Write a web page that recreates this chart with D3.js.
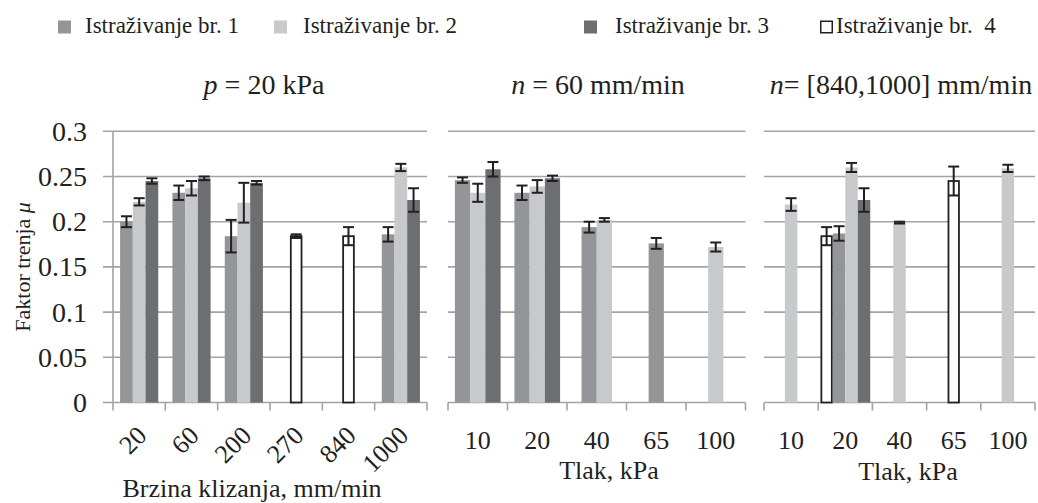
<!DOCTYPE html>
<html><head><meta charset="utf-8">
<script src="https://cdn.jsdelivr.net/npm/d3@7"></script>
<style>
body{margin:0;background:#fff}
svg text{font-family:"Liberation Serif","Tinos","DejaVu Serif",serif;fill:#231f20;white-space:pre}
</style>
</head><body>
<svg id="c" width="1038" height="503" font-family="Liberation Serif"></svg>
<script>
// ---------- DATA ----------
const seriesNames = ["Istraživanje br. 1", "Istraživanje br. 2", "Istraživanje br. 3", "Istraživanje br.  4"];
const yTicks = [0, 0.05, 0.1, 0.15, 0.2, 0.25, 0.3];
const yTickLabels = ["0", "0.05", "0.1", "0.15", "0.2", "0.25", "0.3"];

// Panel 1: p = 20 kPa, sliding speed
const p1Cats = ["20", "60", "200", "270", "840", "1000"];
const p1S1 = [0.200, 0.232, 0.184, null, null, 0.186];
const p1S1Err = [0.006, 0.008, 0.018, null, null, 0.008];
const p1S2 = [0.222, 0.237, 0.221, null, null, 0.260];
const p1S2Err = [0.004, 0.008, 0.022, null, null, 0.004];
const p1S3 = [0.245, 0.248, 0.243, null, null, 0.224];
const p1S3Err = [0.003, 0.002, 0.002, null, null, 0.013];
const p1S4 = [null, null, null, 0.184, 0.184, null];
const p1S4Err = [null, null, null, 0.002, 0.010, null];

// Panel 2: n = 60 mm/min, pressure
const p2Cats = ["10", "20", "40", "65", "100"];
const p2S1 = [0.246, 0.232, 0.194, 0.176, null];
const p2S1Err = [0.003, 0.008, 0.006, 0.006, null];
const p2S2 = [0.232, 0.239, 0.202, null, 0.172];
const p2S2Err = [0.010, 0.007, 0.002, null, 0.005];
const p2S3 = [0.258, 0.248, null, null, null];
const p2S3Err = [0.008, 0.003, null, null, null];
const p2S4 = [null, null, null, null, null];
const p2S4Err = [null, null, null, null, null];

// Panel 3: n = [840,1000] mm/min, pressure
const p3Cats = ["10", "20", "40", "65", "100"];
const p3S1 = [null, 0.187, null, null, null];
const p3S1Err = [null, 0.008, null, null, null];
const p3S2 = [0.219, 0.260, 0.199, null, 0.259];
const p3S2Err = [0.007, 0.005, 0.001, null, 0.004];
const p3S3 = [null, 0.224, null, null, null];
const p3S3Err = [null, 0.013, null, null, null];
const p3S4 = [null, 0.184, null, 0.245, null];
const p3S4Err = [null, 0.010, null, 0.016, null];

// ---------- STYLE / LAYOUT ----------
const FONT = "'Liberation Serif', Tinos, 'DejaVu Serif', serif";
const fills = ["#939598", "#c8c9cb", "#6d6e71", "#ffffff"];
const drawOrder = [3, 0, 1, 2];
const gridColor = "#a3a3a3";
const errColor = "#231f20";

const svg = d3.select("#c");
const y = d3.scaleLinear().domain([0, 0.3]).range([402.5, 131.3]);

function txt(sel) { return sel.append("text").attr("font-family", FONT).attr("fill", "#231f20"); }

const panels = [
  {cats: p1Cats, vals: [p1S1, p1S2, p1S3, p1S4], errs: [p1S1Err, p1S2Err, p1S3Err, p1S4Err],
   x0: 113, x1: 427, gx0: 103, frac: 0.243, rotate: true, yAxis: true,
   title: [["p", true], [" = 20 kPa", false]], titleX: 264,
   xlabel: "Brzina klizanja, mm/min", xlabelX: 252, xlabelY: 497},
  {cats: p2Cats, vals: [p2S1, p2S2, p2S3, p2S4], errs: [p2S1Err, p2S2Err, p2S3Err, p2S4Err],
   x0: 448, x1: 745.5, gx0: 448, frac: 0.256, rotate: false, yAxis: false,
   title: [["n", true], [" = 60 mm/min", false]], titleX: 598,
   xlabel: "Tlak, kPa", xlabelX: 609, xlabelY: 479},
  {cats: p3Cats, vals: [p3S1, p3S2, p3S3, p3S4], errs: [p3S1Err, p3S2Err, p3S3Err, p3S4Err],
   x0: 764, x1: 1035, gx0: 764, frac: 0.23, rotate: false, yAxis: false,
   title: [["n", true], ["= [840,1000] mm/min", false]], titleX: 901,
   xlabel: "Tlak, kPa", xlabelX: 908, xlabelY: 480}
];

panels.forEach(p => {
  const g = svg.append("g");
  const x = d3.scaleBand().domain(p.cats).range([p.x0, p.x1]).padding(0);
  const bw = x.bandwidth() * p.frac;

  g.selectAll("line.grid").data(yTicks.filter(t => t > 0)).enter().append("line")
    .attr("x1", p.gx0).attr("x2", p.x1)
    .attr("y1", d => y(d)).attr("y2", d => y(d))
    .attr("stroke", gridColor).attr("stroke-width", 1.6);

  if (p.yAxis) {
    g.append("line").attr("x1", p.x0).attr("x2", p.x0)
      .attr("y1", y(0.3)).attr("y2", y(0))
      .attr("stroke", gridColor).attr("stroke-width", 1.6);
    g.append("line").attr("x1", p.gx0).attr("x2", p.x0)
      .attr("y1", y(0)).attr("y2", y(0))
      .attr("stroke", gridColor).attr("stroke-width", 1.6);
    yTicks.forEach((d, i) => {
      txt(g).attr("x", 87).attr("y", y(d)).attr("dy", "0.34em")
        .attr("text-anchor", "end").attr("font-size", 28).text(yTickLabels[i]);
    });
    const t = txt(g)
      .attr("transform", `translate(30,${(y(0) + y(0.3)) / 2}) rotate(-90)`)
      .attr("text-anchor", "middle").attr("font-size", 22);
    t.append("tspan").text("Faktor trenja ");
    t.append("tspan").attr("font-style", "italic").text("μ");
  }

  g.append("line").attr("x1", p.x0).attr("x2", p.x1)
    .attr("y1", y(0)).attr("y2", y(0))
    .attr("stroke", gridColor).attr("stroke-width", 1.6);
  const bounds = p.cats.map(c => x(c)).concat([p.x1]);
  g.selectAll("line.xt").data(bounds).enter().append("line")
    .attr("x1", d => d).attr("x2", d => d)
    .attr("y1", y(0)).attr("y2", y(0) + 8)
    .attr("stroke", gridColor).attr("stroke-width", 1.6);

  p.cats.forEach((c, ci) => {
    const present = drawOrder.filter(s => p.vals[s][ci] != null);
    const start = x(c) + x.bandwidth() / 2 - present.length * bw / 2;
    present.forEach((s, k) => {
      const v = p.vals[s][ci], e = p.errs[s][ci];
      const bx = start + k * bw;
      if (s === 3) {
        g.append("rect").attr("x", bx + 1).attr("y", y(v))
          .attr("width", bw - 2).attr("height", y(0) - y(v))
          .attr("fill", "#fff").attr("stroke", "#231f20").attr("stroke-width", 1.8);
      } else {
        g.append("rect").attr("x", bx).attr("y", y(v))
          .attr("width", bw).attr("height", y(0) - y(v))
          .attr("fill", fills[s]);
      }
      if (e != null) {
        const cx = bx + bw / 2, cw = 5.5;
        const eg = g.append("g").attr("stroke", errColor).attr("stroke-width", 2);
        eg.append("line").attr("x1", cx).attr("x2", cx).attr("y1", y(v + e)).attr("y2", y(v - e));
        eg.append("line").attr("x1", cx - cw).attr("x2", cx + cw).attr("y1", y(v + e)).attr("y2", y(v + e));
        eg.append("line").attr("x1", cx - cw).attr("x2", cx + cw).attr("y1", y(v - e)).attr("y2", y(v - e));
      }
    });
  });

  p.cats.forEach(d => {
    if (p.rotate) {
      txt(g).attr("transform", `translate(${x(d) + x.bandwidth() / 2 + 9},437) rotate(-45)`)
        .attr("text-anchor", "end").attr("font-size", 26).text(d);
    } else {
      txt(g).attr("x", x(d) + x.bandwidth() / 2).attr("y", 449)
        .attr("text-anchor", "middle").attr("font-size", 26).text(d);
    }
  });

  txt(g).attr("x", p.xlabelX).attr("y", p.xlabelY)
    .attr("text-anchor", "middle").attr("font-size", 26).text(p.xlabel);

  const tt = txt(g).attr("x", p.titleX).attr("y", 94)
    .attr("text-anchor", "middle").attr("font-size", 28);
  p.title.forEach(([s, it]) => {
    const ts = tt.append("tspan").text(s);
    if (it) ts.attr("font-style", "italic");
  });
});

// legend
const legX = [58, 274, 584, 820];
const legTX = [85, 303, 615, 836];
const leg = svg.append("g");
seriesNames.forEach((n, i) => {
  if (i === 3) {
    leg.append("rect").attr("x", legX[i] + 0.75).attr("y", 21.25).attr("width", 11.5).attr("height", 11.5)
      .attr("fill", "#fff").attr("stroke", "#231f20").attr("stroke-width", 1.5);
  } else {
    leg.append("rect").attr("x", legX[i]).attr("y", 20.5).attr("width", 13).attr("height", 13)
      .attr("fill", fills[i]);
  }
  txt(leg).attr("x", legTX[i]).attr("y", 33).attr("font-size", 23).text(n);
});
</script>
</body></html>
